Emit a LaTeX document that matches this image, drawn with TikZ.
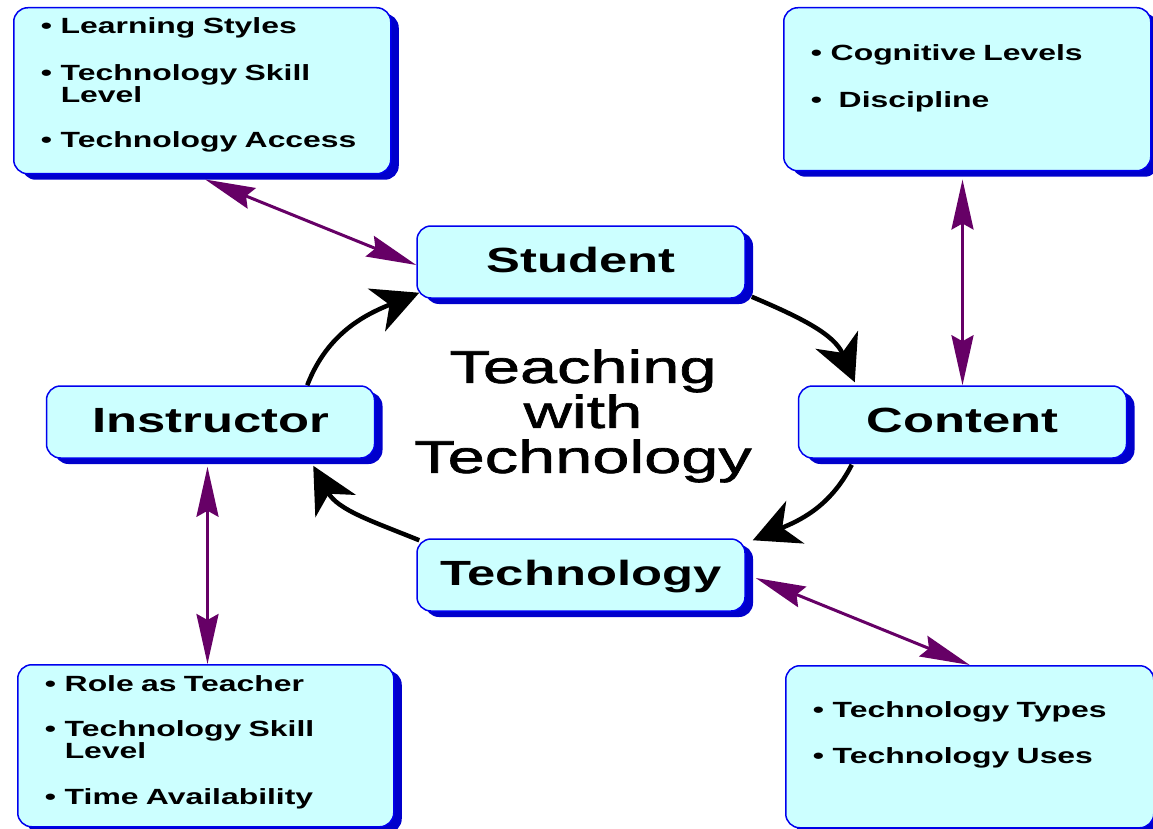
\documentclass[tikz,border=0pt]{standalone}
\usepackage{fontspec}
\setmainfont{Liberation Sans}[FakeStretch=1.45]
\newfontfamily\titlefont{Liberation Sans}[FakeStretch=1.45, FakeBold=1.5]
\usetikzlibrary{arrows.meta, shadows}

\definecolor{boxfill}{HTML}{CCFFFF}
\definecolor{boxblue}{HTML}{0000EE}
\definecolor{shadowblue}{HTML}{0000CC}
\definecolor{linkpurple}{HTML}{660066}

\newcommand{\bul}{\makebox[20pt][l]{\textbullet}}

\begin{document}
\begin{tikzpicture}[x=1pt, y=-1pt,
	box/.style={draw=boxblue, line width=1.5pt, fill=boxfill, rounded corners=14pt,
		drop shadow={shadow xshift=8pt, shadow yshift=-6pt, fill=shadowblue, opacity=1}},
	partbox/.style={box, minimum width=328pt, minimum height=72pt, inner sep=0pt,
		text height=26pt, text depth=6pt, font=\bfseries\fontsize{35}{35}\selectfont},
	notebox/.style={box, anchor=north west, inner xsep=27pt, inner ysep=0pt, align=left,
		font=\bfseries\fontsize{22}{22}\selectfont},
	flow/.style={-{Stealth[length=46pt, width=46pt, inset=14pt]}, line width=4.5pt},
	link/.style={{Stealth[length=50pt, width=22pt, inset=6pt]}-{Stealth[length=50pt, width=22pt, inset=6pt]}, draw=linkpurple, fill=linkpurple, line width=3pt}]

		\useasboundingbox (0,0) rectangle (1153,829);
		\clip (0,0) rectangle (1153,829);

		% centre
		\node[font=\titlefont\fontsize{46}{45}\selectfont, align=center] (title) at (583,416) {Teaching\\with\\Technology};

		% the four parts
		\node[partbox] (student) at (581,262) {Student};
		\node[partbox] (content) at (962.5,422) {Content};
		\node[partbox] (technology) at (581,575) {Technology};
		\node[partbox] (instructor) at (210.5,422) {Instructor};

		% notes
		\node[notebox, text width=323pt] (stylesbox) at (13,7)
			{\rule{0pt}{26pt}\bul Learning Styles\\[25pt]\bul Technology Skill\\\hspace*{20pt}Level\\[23pt]\bul Technology Access\rule[-26pt]{0pt}{1pt}};
		\node[notebox, text width=313pt] (levelsbox) at (783,7)
			{\rule{0pt}{53pt}\bul Cognitive Levels\\[25pt]\bul\hspace{8pt}Discipline\rule[-63pt]{0pt}{1pt}};
		\node[notebox, text width=322pt] (rolebox) at (17,664)
			{\rule{0pt}{27pt}\bul Role as Teacher\\[23pt]\bul Technology Skill\\\hspace*{20pt}Level\\[24pt]\bul Time Availability\rule[-22pt]{0pt}{1pt}};
		\node[notebox, text width=314pt] (typesbox) at (785,665)
			{\rule{0pt}{52pt}\bul Technology Types\\[24pt]\bul Technology Uses\rule[-64pt]{0pt}{1pt}};

		% the cycle
		\draw[flow] ([xshift=6pt,yshift=2pt]student.south east) to[out=-23, in=113] ([xshift=57pt,yshift=3pt]content.north west);
		\draw[flow] ([xshift=54pt,yshift=-6pt]content.south west) to[out=-117, in=23] ([xshift=7pt,yshift=-2pt]technology.north east);
		\draw[flow] ([xshift=3pt,yshift=-2pt]technology.north west) to[out=158, in=-61] ([xshift=-62pt,yshift=-7pt]instructor.south east);
		\draw[flow] ([xshift=-68pt]instructor.north east) to[out=69, in=202] ([xshift=3pt,yshift=6pt]student.south west);

		% links to the notes
		\draw[link] ([xshift=3pt,yshift=-5pt]stylesbox.south) -- ([yshift=-3pt]student.west);
		\draw[link] (content.north) -- ([yshift=-8pt]content.north |- levelsbox.south);
		\draw[link] ([xshift=-3pt,yshift=-8pt]instructor.south) -- ([xshift=-3pt]instructor.south |- rolebox.north);
		\draw[link] ([xshift=10pt,yshift=-3pt]technology.east) -- (typesbox.north);

\end{tikzpicture}
\end{document}
